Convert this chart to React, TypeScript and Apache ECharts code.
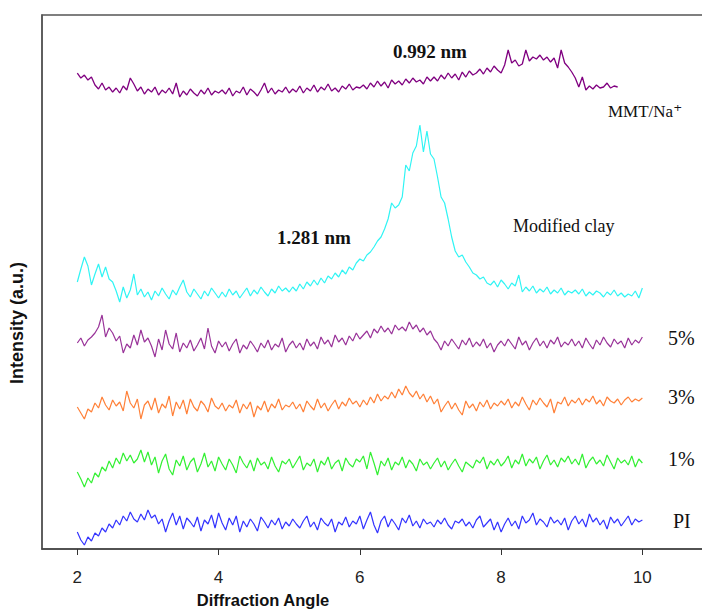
import React, { useEffect, useRef } from "react";
import * as echarts from "echarts";

// Diffraction angle sampling (2θ) for every pattern
const ANGLE_START = 2;
const ANGLE_STEP = 0.05;
const X_TICKS = [2, 4, 6, 8, 10];

// Intensities (a.u., curves already stacked/offset as in the figure)
const PI = [
  17, 9, 4, 12, 8, 16, 13, 21, 17, 25, 21, 29, 24, 33, 28, 37, 30, 27, 35, 29, 39,
  31, 34, 25, 30, 17, 28, 36, 24, 33, 20, 31, 27, 22, 32, 18, 29, 25, 34, 21, 36,
  26, 19, 31, 24, 33, 17, 28, 22, 30, 25, 18, 32, 27, 21, 29, 24, 31, 20, 27, 23,
  30, 25, 21, 28, 33, 22, 27, 19, 31, 26, 23, 30, 17, 27, 24, 32, 22, 28, 25, 33,
  20, 29, 37, 24, 16, 28, 33, 22, 30, 25, 19, 31, 26, 34, 23, 28, 21, 30, 25, 27,
  22, 29, 25, 31, 24, 20, 28, 26, 30, 23, 27, 21, 29, 33, 22, 26, 30, 19, 27, 17,
  25, 31, 23, 28, 20, 33, 26, 29, 36, 24, 30, 27, 22, 32, 26, 29, 24, 31, 19, 28,
  33, 25, 30, 22, 35, 27, 31, 24, 29, 20, 32, 26, 30, 23, 28, 33, 24, 30, 27, 29,
];
const ONE_PCT = [
  77, 70, 62, 71, 66, 76, 72, 82, 78, 88, 81, 91, 85, 96, 88, 94, 86, 90, 99, 87, 97,
  84, 92, 76, 88, 95, 80, 74, 89, 83, 93, 79, 87, 91, 77, 85, 96, 82, 88, 78, 92,
  85, 79, 90, 84, 76, 93, 86, 81, 89, 78, 91, 84, 87, 80, 92, 83, 77, 88, 85, 90,
  81, 87, 93, 79, 86, 83, 90, 77, 88, 84, 92, 80, 86, 89, 78, 91, 85, 82, 90, 87,
  93, 80, 97, 86, 74, 88, 83, 91, 79, 87, 84, 92, 81, 89, 85, 78, 90, 84, 87, 80,
  86, 91, 82, 88, 79, 85, 90, 83, 77, 87, 84, 81, 89, 86, 92, 80, 88, 84, 90, 83,
  87, 93, 81, 89, 85, 95, 83, 90, 86, 92, 80, 88, 94, 84, 89, 82, 91, 87, 93, 85,
  90, 84, 95, 81, 88, 92, 85, 89, 83, 94, 87, 80, 91, 86, 89, 84, 93, 82, 90, 86,
];
const THREE_PCT = [
  142, 136, 130, 140, 137, 146, 141, 152, 144, 139, 149, 143, 147, 138, 158, 146, 141, 150, 130, 144, 148,
  139, 151, 136, 145, 141, 153, 133, 147, 140, 149, 135, 150, 142, 138, 148, 144, 137, 151, 143, 140,
  146, 138, 144, 141, 149, 136, 145, 140, 147, 132, 143, 139, 148, 137, 145, 141, 150, 139, 144, 142,
  147, 140, 145, 137, 148, 143, 139, 150, 141, 146, 138, 144, 149, 140, 147, 143, 151, 145, 148, 142,
  149, 144, 152, 146, 155, 148, 153, 150, 157, 151, 160, 154, 163, 156, 152, 158, 150, 155, 147, 153,
  145, 150, 137, 143, 148, 140, 146, 139, 134, 148, 141, 145, 138, 147, 142, 149, 140, 146, 143, 148,
  144, 150, 141, 147, 143, 152, 145, 139, 149, 144, 151, 146, 142, 150, 136, 147, 145, 152, 143, 149,
  146, 151, 144, 150, 147, 153, 145, 149, 143, 152, 148, 146, 150, 144, 149, 152, 147, 150, 148, 151,
];
const FIVE_PCT = [
  206, 211, 203, 209, 212, 216, 222, 234, 212, 221, 216, 208, 213, 196, 205, 201, 214, 204, 219, 207, 211,
  203, 192, 210, 199, 219, 205, 200, 216, 197, 206, 201, 209, 198, 204, 211, 200, 221, 203, 196, 208,
  202, 207, 198, 205, 210, 196, 204, 200, 208, 203, 197, 206, 201, 209, 199, 205, 202, 211, 197, 204,
  208, 201, 206, 199, 210, 203, 207, 200, 212, 205, 209, 202, 214, 207, 211, 204, 213, 208, 216, 210,
  214, 218, 211, 220, 216, 223, 217, 221, 215, 224, 219, 222, 218, 227, 220, 224, 217, 221, 214, 218,
  210, 206, 199, 208, 203, 210, 205, 200, 209, 204, 211, 202, 207, 203, 210, 201, 206, 197, 204, 208,
  203, 210, 205, 200, 212, 204, 208, 199, 206, 211, 203, 208, 201, 209, 205, 212, 202, 207, 204, 210,
  203, 208, 201, 211, 205, 200, 209, 204, 212, 206, 202, 210, 205, 208, 201, 211, 204, 209, 206, 212,
];
const MODIFIED_CLAY = [
  267, 280, 292, 283, 264, 275, 285, 272, 282, 270, 267, 258, 247, 262, 251, 259, 275, 254, 260, 252, 257,
  249, 258, 253, 261, 255, 250, 259, 254, 262, 269, 257, 252, 260, 255, 250, 258, 253, 261, 256, 251,
  257, 252, 260, 254, 258, 251, 256, 261, 253, 259, 255, 262, 257, 253, 260, 256, 263, 258, 261, 257,
  262, 258, 265, 260, 267, 263, 269, 264, 271, 266, 273, 270, 276, 272, 279, 275, 282, 279, 286, 290,
  288, 294, 297, 302, 308, 312, 320, 330, 346, 341, 344, 352, 384, 378, 396, 403, 424, 397, 418, 395,
  390, 372, 352, 346, 330, 312, 298, 292, 294, 287, 282, 276, 274, 270, 272, 266, 264, 268, 262, 269,
  265, 260, 266, 263, 274, 257, 262, 258, 263, 256, 260, 257, 262, 255, 259, 256, 261, 254, 258, 256,
  259, 255, 260, 253, 257, 254, 258, 256, 252, 257, 254, 259, 253, 256, 252, 255, 253, 258, 251, 261,
];
const MMT_NA = [
  476, 471, 474, 469, 472, 464, 460, 466, 459, 462, 457, 461, 456, 463, 459, 471, 465, 458, 462, 455, 460,
  457, 462, 454, 459, 456, 461, 455, 466, 452, 458, 454, 460, 456, 453, 459, 455, 461, 454, 458, 456,
  459, 455, 461, 453, 458, 456, 462, 454, 460, 457, 453, 459, 466, 456, 461, 455, 459, 457, 462, 456,
  460, 457, 463, 456, 461, 458, 464, 457, 462, 459, 465, 458, 461, 457, 463, 460, 465, 459, 462, 461,
  464, 460, 466, 462, 468, 463, 467, 461, 469, 465, 468, 464, 470, 466, 471, 467, 469, 465, 472, 468,
  472, 468, 474, 470, 476, 471, 475, 469, 477, 472, 478, 474, 476, 480, 475, 481, 477, 483, 479, 476,
  484, 499, 486, 489, 483, 485, 499, 488, 492, 490, 494, 489, 492, 487, 491, 481, 499, 486, 482, 477,
  471, 462, 472, 459, 463, 460, 464, 461, 462, 466, 461, 463, 462,
];

const SERIES = [
  { name: "PI", values: PI, color: "#3434ff", width: 1.2 },
  { name: "1%", values: ONE_PCT, color: "#33f033", width: 1.2 },
  { name: "3%", values: THREE_PCT, color: "#ff8038", width: 1.2 },
  { name: "5%", values: FIVE_PCT, color: "#993399", width: 1.2 },
  { name: "Modified clay", values: MODIFIED_CLAY, color: "#30f4f4", width: 1.2 },
  { name: "MMT/Na⁺", values: MMT_NA, color: "#800080", width: 1.3 },
];

const toPairs = (vals: number[]) =>
  vals.map((v, i) => [Math.round((ANGLE_START + i * ANGLE_STEP) * 100) / 100, v]);

const serif = "'Liberation Serif', 'Times New Roman', 'DejaVu Serif', serif";
const sans = "'Liberation Sans', Arial, sans-serif";

export default function App() {
  const ref = useRef<HTMLDivElement>(null);
  useEffect(() => {
    if (!ref.current) return;
    const chart = echarts.init(ref.current, null, { renderer: "svg" });
    const label = (text: string, x: number, y: number, size: number, bold = false) => ({
      type: "text",
      x,
      y,
      style: {
        text,
        fill: "#111",
        fontFamily: serif,
        fontSize: size,
        fontWeight: bold ? "bold" : "normal",
        textAlign: "left",
        textVerticalAlign: "middle",
        verticalAlign: "middle",
      },
    });
    chart.setOption({
      animation: false,
      backgroundColor: "#fff",
      grid: {
        left: 42,
        top: 15,
        width: 671,
        height: 534,
        show: true,
        borderColor: "#555",
        borderWidth: 1.5,
      },
      xAxis: {
        type: "value",
        min: 1.5,
        max: 11,
        axisLine: { show: true, lineStyle: { color: "#444", width: 1.5 } },
        axisTick: {
          show: true,
          length: 6,
          customValues: X_TICKS,
          lineStyle: { color: "#333", width: 1 },
        },
        axisLabel: {
          customValues: X_TICKS,
          margin: 20,
          fontSize: 17,
          color: "#222",
          fontFamily: sans,
        },
        splitLine: { show: false },
      },
      yAxis: {
        type: "value",
        min: 0,
        max: 534,
        axisLine: { show: true, lineStyle: { color: "#555", width: 1.5 } },
        axisTick: { show: false },
        axisLabel: { show: false },
        splitLine: { show: false },
      },
      series: SERIES.map((s) => ({
        name: s.name,
        type: "line",
        data: toPairs(s.values),
        showSymbol: false,
        symbol: "none",
        lineStyle: { color: s.color, width: s.width },
        itemStyle: { color: s.color },
      })),
      graphic: [
        label("0.992 nm", 393, 51, 19, true),
        label("MMT/Na⁺", 608, 111, 17),
        label("Modified clay", 513, 226, 18),
        label("1.281 nm", 277, 237, 19, true),
        label("5%", 668, 338, 20),
        label("3%", 668, 397, 20),
        label("1%", 668, 459, 20),
        label("PI", 673, 521, 20),
        {
          type: "text",
          x: 263,
          y: 600,
          style: {
            text: "Diffraction Angle",
            fill: "#111",
            fontFamily: sans,
            fontSize: 16.5,
            fontWeight: "bold",
            textAlign: "center",
            textVerticalAlign: "middle",
            verticalAlign: "middle",
          },
        },
        {
          type: "text",
          x: 17,
          y: 323,
          rotation: Math.PI / 2,
          style: {
            text: "Intensity (a.u.)",
            fill: "#111",
            fontFamily: sans,
            fontSize: 18,
            fontWeight: "bold",
            textAlign: "center",
            textVerticalAlign: "middle",
            verticalAlign: "middle",
          },
        },
      ],
    });
    return () => chart.dispose();
  }, []);
  return (
    <div
      ref={ref}
      style={{ position: "fixed", left: 0, top: 0, width: 730, height: 610, background: "#fff" }}
    />
  );
}
